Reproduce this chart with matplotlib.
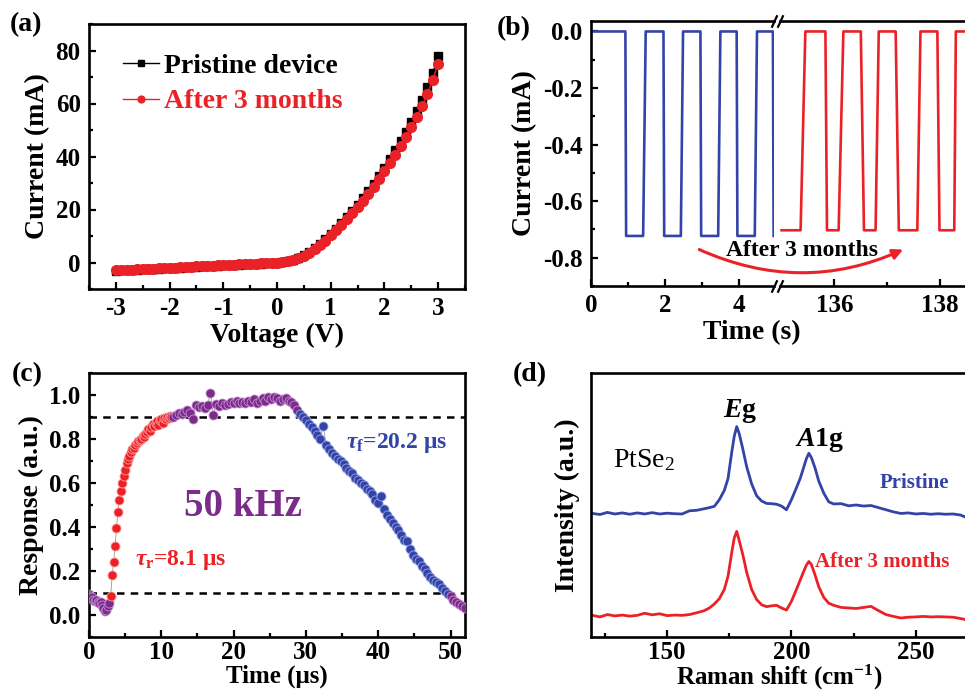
import numpy as np
import matplotlib
matplotlib.use("Agg")
import matplotlib.pyplot as plt
from matplotlib.ticker import MultipleLocator, FixedLocator


# --- fonts: bold times-like everywhere ---
plt.rcParams['font.family'] = 'Liberation Serif'
plt.rcParams['font.weight'] = 'bold'
plt.rcParams['axes.labelweight'] = 'bold'
plt.rcParams['mathtext.fontset'] = 'custom'
plt.rcParams['mathtext.rm'] = 'Liberation Serif:bold'
plt.rcParams['mathtext.it'] = 'Liberation Serif:italic:bold'
plt.rcParams['mathtext.bf'] = 'Liberation Serif:bold'
plt.rcParams['axes.linewidth'] = 1.9
plt.rcParams['axes.unicode_minus'] = False

BLUE = '#3343a8'
RED = '#ea2228'
PURPLE = '#7b2b8c'

# (a) I-V curves, voltage step 0.1 V from -3 to 3
volt = np.round(np.linspace(-3, 3, 61), 2)
cur_pristine = [-3.1, -3.0, -2.9, -2.85, -2.7, -2.6, -2.5, -2.4, -2.3, -2.2,
		-2.1, -2.0, -1.9, -1.8, -1.7, -1.6, -1.5, -1.4, -1.3, -1.2,
		-1.1, -1.0, -0.9, -0.8, -0.7, -0.6, -0.5, -0.4, -0.3, -0.2,
		0.0, 0.2, 0.5, 1.0, 1.8, 2.7, 3.9, 5.3, 6.8, 8.7,
		10.7, 12.7, 14.8, 17.0, 19.3, 21.7, 24.2, 26.9, 29.7, 32.7,
		35.8, 39.0, 42.3, 45.8, 49.4, 53.2, 57.2, 61.5, 66.2, 71.6,
		77.8]
cur_after = [-3.0, -2.9, -2.8, -2.75, -2.6, -2.5, -2.4, -2.3, -2.2, -2.1,
		-2.0, -1.95, -1.85, -1.7, -1.6, -1.5, -1.4, -1.3, -1.2, -1.1,
		-1.0, -0.9, -0.8, -0.7, -0.6, -0.5, -0.4, -0.3, -0.2, -0.1,
		0.0, 0.2, 0.5, 1.0, 1.7, 2.6, 3.7, 5.0, 6.5, 8.3,
		10.2, 12.2, 14.2, 16.3, 18.5, 20.8, 23.2, 25.8, 28.5, 31.4,
		34.4, 37.5, 40.7, 44.0, 47.4, 51.0, 54.8, 59.0, 63.6, 69.0,
		75.0]

# (b) on/off switching, pristine (0-5 s) and after 3 months (135-138.5 s)
t_pristine = [0, 0.93, 0.95, 1.41, 1.48, 1.96, 1.98, 2.43, 2.49, 2.96, 2.98,
		3.44, 3.50, 3.94, 3.96, 4.43, 4.49, 4.92, 4.94]
i_pristine = [0, 0, -0.723, -0.723, 0, 0, -0.723, -0.723, 0, 0, -0.723,
		-0.723, 0, 0, -0.723, -0.723, 0, 0, -0.723]
t_after = [135.0, 135.36, 135.45, 135.83, 135.86, 136.08, 136.17, 136.50,
		136.56, 136.78, 136.84, 137.16, 137.22, 137.57, 137.63,
		137.95, 137.99, 138.27, 138.30, 138.6]
i_after = [-0.703, -0.703, 0, 0, -0.703, -0.703, 0, 0, -0.703, -0.703, 0, 0,
		-0.703, -0.703, 0, 0, -0.703, -0.703, 0, 0]

# (c) transient response at 50 kHz (time in us)
resp_start = [0.095, 0.085, 0.08, 0.07, 0.065, 0.07, 0.06, 0.055, 0.06, 0.045,
		0.03, 0.02, 0.025, 0.04, 0.055]			# 0.0 .. 2.8
resp_rise = [0.087, 0.18, 0.24, 0.314, 0.395, 0.47, 0.525, 0.565, 0.60, 0.63,
		0.66, 0.69, 0.71, 0.725, 0.74, 0.755, 0.76, 0.775, 0.78, 0.79,
		0.795, 0.80, 0.815, 0.81, 0.825, 0.83, 0.845, 0.835, 0.855, 0.87,
		0.86, 0.875, 0.88, 0.865, 0.885, 0.89, 0.875, 0.895, 0.89, 0.90,
		0.895, 0.905, 0.90]				# 3.0 .. 11.4
resp_top = [0.90, 0.91, 0.92, 0.915, 0.925, 0.93, 0.92, 0.89, 0.955, 0.945,
		0.95, 0.94, 0.955, 1.01, 0.91, 0.96, 0.95, 0.965, 0.955, 0.96,
		0.97, 0.965, 0.975, 0.965, 0.97, 0.965, 0.975, 0.97, 0.98, 0.965,
		0.975, 0.985, 0.975, 0.99, 0.98, 0.99, 0.985, 0.975, 0.98, 0.985,
		0.975, 0.97, 0.955, 0.93]			# 11.6 .. 28.8
resp_fall = [0.915, 0.90, 0.885, 0.87, 0.855, 0.835, 0.82, 0.80, 0.86, 0.775,
		0.755, 0.735, 0.725, 0.71, 0.70, 0.685, 0.67, 0.655, 0.645, 0.625,
		0.615, 0.60, 0.59, 0.575, 0.565, 0.55, 0.525, 0.51, 0.54, 0.48,
		0.455, 0.435, 0.42, 0.40, 0.385, 0.365, 0.34, 0.335, 0.30, 0.275,
		0.255, 0.245, 0.225, 0.21, 0.19, 0.175, 0.16, 0.15, 0.14, 0.125,
		0.11, 0.095]					# 29.2 .. 49.6
resp_end = [0.085, 0.07, 0.06, 0.05, 0.04, 0.03]	# 50.0 .. 52.0

# (d) raman spectra
raman_x = [120, 123, 126, 129, 132, 135, 138, 141, 144, 147, 150, 153, 156,
		159, 162, 165, 167, 169, 171, 173, 174.5, 176, 177, 178, 179,
		180.5, 182, 184, 186, 188, 190, 192, 194, 196, 198, 200, 202,
		203.5, 205, 206, 207, 208, 209.5, 211, 213, 215, 217, 220, 223,
		226, 229, 232, 235, 238, 241, 244, 247, 250, 253, 256, 259, 262,
		265, 268, 271]
raman_pristine = [0.468, 0.464, 0.472, 0.466, 0.470, 0.465, 0.470, 0.466,
		0.471, 0.466, 0.469, 0.467, 0.466, 0.478, 0.480, 0.486, 0.490,
		0.495, 0.520, 0.555, 0.600, 0.700, 0.760, 0.797, 0.770, 0.710,
		0.645, 0.580, 0.535, 0.515, 0.506, 0.505, 0.503, 0.496, 0.482,
		0.520, 0.565, 0.600, 0.645, 0.675, 0.696, 0.680, 0.640, 0.590,
		0.545, 0.512, 0.504, 0.505, 0.497, 0.500, 0.496, 0.498, 0.490,
		0.482, 0.474, 0.468, 0.470, 0.466, 0.468, 0.465, 0.467, 0.465,
		0.466, 0.462, 0.450]
raman_after = [0.082, 0.076, 0.085, 0.080, 0.083, 0.079, 0.082, 0.090, 0.084,
		0.088, 0.081, 0.083, 0.082, 0.085, 0.092, 0.100, 0.110, 0.125,
		0.145, 0.180, 0.230, 0.320, 0.375, 0.400, 0.365, 0.310, 0.245,
		0.180, 0.142, 0.122, 0.115, 0.118, 0.120, 0.110, 0.102, 0.135,
		0.180, 0.215, 0.250, 0.272, 0.286, 0.275, 0.235, 0.190, 0.150,
		0.128, 0.120, 0.112, 0.110, 0.108, 0.112, 0.116, 0.100, 0.085,
		0.078, 0.072, 0.075, 0.076, 0.078, 0.076, 0.077, 0.076, 0.075,
		0.070, 0.064]


W, H = 965, 694


# rect()
# converts a pixel box (left, top, right, bottom) to a figure rect
def rect(l, t, r, b):
	return [l / W, 1 - b / H, (r - l) / W, (b - t) / H]


# style()
# inward ticks on bottom/left only
def style(ax):
	ax.tick_params(which='both', direction='in', top=False, right=False,
			labelsize=18, width=1.6)
	ax.tick_params(which='major', length=5, pad=6)
	ax.tick_params(which='minor', length=3)


fig = plt.figure(figsize=(W / 100, H / 100), dpi=100)

# ---------------- (a) ----------------
ax = fig.add_axes(rect(89, 24, 465, 289))
ax.plot(volt, cur_pristine, '-s', color='black', ms=6, lw=1,
		label='Pristine device')
ax.plot(volt, cur_after, '-o', color=RED, ms=7, lw=1,
		label='After 3 months')
ax.set_xlim(-3.5, 3.5)
ax.set_ylim(-10, 90)
ax.xaxis.set_major_locator(MultipleLocator(1))
ax.xaxis.set_minor_locator(MultipleLocator(0.5))
ax.yaxis.set_major_locator(MultipleLocator(20))
ax.yaxis.set_minor_locator(MultipleLocator(10))
style(ax)
ax.set_xlabel('Voltage (V)', fontsize=20, labelpad=2)
ax.set_ylabel('Current (mA)', fontsize=20, labelpad=4)
leg = ax.legend(loc='upper left', bbox_to_anchor=(0.06, 0.93),
		frameon=False, fontsize=20, handlelength=1.3,
		handletextpad=0.2, labelspacing=0.35, borderaxespad=0,
		labelcolor='linecolor', markerscale=0.7)

# ---------------- (b) ----------------
axl = fig.add_axes(rect(591, 21, 774, 286))
axr = fig.add_axes(rect(780, 21, 968, 286))
axl.plot(t_pristine, i_pristine, color=BLUE, lw=1.9)
axr.plot(t_after, i_after, color=RED, lw=1.9)
axl.set_xlim(0, 4.95)
axr.set_xlim(134.97, 138.53)
for a in (axl, axr):
	a.set_ylim(-0.9, 0.037)
	style(a)
axl.spines['right'].set_visible(False)
axr.spines['left'].set_visible(False)
axr.tick_params(which='both', left=False, labelleft=False)
axl.xaxis.set_major_locator(FixedLocator([0, 2, 4]))
axl.xaxis.set_minor_locator(FixedLocator([1, 3]))
axr.xaxis.set_major_locator(FixedLocator([136, 138]))
axr.xaxis.set_minor_locator(FixedLocator([137]))
axl.yaxis.set_major_locator(MultipleLocator(0.2))
axl.yaxis.set_minor_locator(MultipleLocator(0.1))
axl.yaxis.set_major_formatter(lambda v, p: '%.1f' % v if abs(v) > 1e-9
		else '0.0')
axl.set_ylabel('Current (mA)', fontsize=20, labelpad=4)
fig.text(752 / W, 1 - 333 / H, 'Time (s)', fontsize=20, ha='center',
		va='center')
# break marks
brk = [(-1, -2.2), (1, 2.2)]
for a, xx in ((axl, 1), (axr, 0)):
	a.plot([xx, xx], [0, 1], transform=a.transAxes, ls='none',
			marker=brk, ms=9, mec='black', mew=1.6, clip_on=False)
axr.annotate('', xy=(137.35, -0.767), xycoords='data',
		xytext=(2.86, -0.767), textcoords=axl.transData,
		annotation_clip=False,
		arrowprops=dict(arrowstyle='-|>,head_length=0.6,head_width=0.3',
			connectionstyle='arc3,rad=0.23', color=RED, lw=2.2))
fig.text(802 / W, 1 - 250 / H, 'After 3 months', fontsize=17,
		ha='center', va='center')

# ---------------- (c) ----------------
ax = fig.add_axes(rect(89, 373, 465, 637))
t_start = np.linspace(0.0, 2.8, len(resp_start))
t_rise = np.linspace(3.0, 11.4, len(resp_rise))
t_top = np.linspace(11.6, 28.8, len(resp_top))
t_fall = np.linspace(29.2, 49.6, len(resp_fall))
t_end = np.linspace(50.0, 52.0, len(resp_end))
t_all = np.concatenate([t_start, t_rise, t_top, t_fall, t_end])
r_all = np.concatenate([resp_start, resp_rise, resp_top, resp_fall,
		resp_end])
ax.plot(t_all, r_all, color='#999999', lw=0.6, zorder=1)
for tt, rr, c, ec in ((t_start, resp_start, PURPLE, '#c58fd0'),
		(t_rise, resp_rise, RED, '#ff9a9a'),
		(t_top, resp_top, PURPLE, '#c58fd0'),
		(t_fall, resp_fall, BLUE, '#9aa6e8'),
		(t_end, resp_end, PURPLE, '#c58fd0')):
	ax.plot(tt, rr, 'o', color=c, mec=ec, mew=0.6, ms=6.5, zorder=3)
ax.axhline(0.9, color='black', ls=(0, (3, 2.5)), lw=1.8, zorder=2)
ax.axhline(0.1, color='black', ls=(0, (3, 2.5)), lw=1.8, zorder=2)
ax.set_xlim(0, 52)
ax.set_ylim(-0.1, 1.1)
ax.xaxis.set_major_locator(MultipleLocator(10))
ax.xaxis.set_minor_locator(MultipleLocator(5))
ax.yaxis.set_major_locator(MultipleLocator(0.2))
ax.yaxis.set_minor_locator(MultipleLocator(0.1))
ax.yaxis.set_major_formatter(lambda v, p: '%.1f' % abs(v) if abs(v) < 1e-9
		else '%.1f' % v)
style(ax)
ax.tick_params(axis='x', which='major', pad=3)
ax.set_xlabel('Time (μs)', fontsize=18, labelpad=0)
ax.set_ylabel('Response (a.u.)', fontsize=20, labelpad=4)
ax.text(21.3, 0.495, '50 kHz', color=PURPLE, fontsize=28, ha='center',
		va='center')
ax.text(6.4, 0.25, r'$\tau_{\rm r}$=8.1 μs', color=RED, fontsize=17,
		ha='left', va='center')
ax.text(35.5, 0.78, r'$\tau_{\rm f}$=20.2 μs', color=BLUE, fontsize=17,
		ha='left', va='center')

# ---------------- (d) ----------------
ax = fig.add_axes(rect(591, 373, 968, 637))
ax.plot(raman_x, raman_pristine, color=BLUE, lw=2)
ax.plot(raman_x, raman_after, color=RED, lw=2)
ax.set_xlim(119.4, 271)
ax.set_ylim(0, 1)
ax.xaxis.set_major_locator(FixedLocator([150, 200, 250]))
ax.xaxis.set_minor_locator(FixedLocator([125, 175, 225]))
style(ax)
ax.tick_params(axis='x', which='major', pad=3)
ax.tick_params(which='both', left=False, labelleft=False)
ax.set_xlabel('Raman shift (cm$^{-1}$)', fontsize=18, labelpad=-1)
ax.set_ylabel('Intensity (a.u.)', fontsize=20, labelpad=8)
ax.text(140.6, 0.67, r'PtSe$_\mathregular{2}$', fontsize=20,
		fontweight='normal', ha='center', va='center')
ax.text(179.5, 0.855, r'$E$g', fontsize=20, ha='center', va='center')
ax.text(211.5, 0.745, r'$A$1g', fontsize=20, ha='center', va='center')
ax.text(249.4, 0.583, 'Pristine', color=BLUE, fontsize=15, ha='center',
		va='center')
ax.text(209.5, 0.284, 'After 3 months', color=RED, fontsize=15, ha='left',
		va='center')

# panel labels
for s, px, py in (('(a)', 10, 12), ('(b)', 497, 16), ('(c)', 12, 362),
		('(d)', 513, 362)):
	fig.text(px / W, 1 - py / H, s, fontsize=20, ha='left', va='top')

fig.savefig('out.png', dpi=100)
